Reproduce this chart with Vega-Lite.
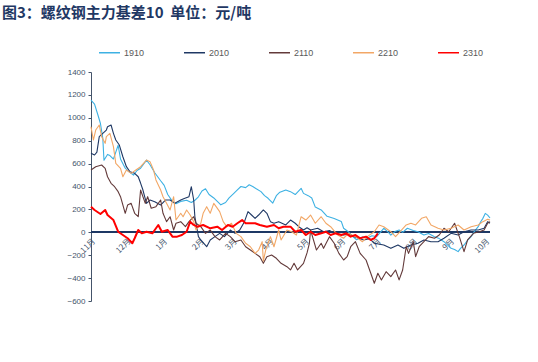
{
"$schema":"https://vega.github.io/schema/vega-lite/v6.json",
"autosize":"none",
"width":399,"height":229,
"padding":{"left":91,"top":72,"right":48,"bottom":61},
"background":"white",
"title":{"text":"图3：螺纹钢主力基差10\u00a0\u00a0单位：元/吨","anchor":"start","frame":"group","dx":-89,"dy":-16,"font":"Noto Sans CJK SC","fontSize":15,"fontWeight":"bold","color":"#1F3864"},
"config":{"view":{"stroke":null},"axis":{"grid":false}},
"datasets":{"d":[
{"s":"1910","t":"2000-11-01","v":1155},{"s":"1910","t":"2000-11-04","v":1120},{"s":"1910","t":"2000-11-07","v":1020},{"s":"1910","t":"2000-11-09","v":950},{"s":"1910","t":"2000-11-11","v":820},{"s":"1910","t":"2000-11-12","v":630},{"s":"1910","t":"2000-11-15","v":680},{"s":"1910","t":"2000-11-17","v":670},{"s":"1910","t":"2000-11-20","v":640},{"s":"1910","t":"2000-11-22","v":700},{"s":"1910","t":"2000-11-24","v":760},{"s":"1910","t":"2000-11-26","v":640},{"s":"1910","t":"2000-11-30","v":560},{"s":"1910","t":"2000-12-03","v":530},{"s":"1910","t":"2000-12-07","v":500},{"s":"1910","t":"2000-12-10","v":540},{"s":"1910","t":"2000-12-13","v":560},{"s":"1910","t":"2000-12-18","v":630},{"s":"1910","t":"2000-12-21","v":590},{"s":"1910","t":"2000-12-25","v":520},{"s":"1910","t":"2000-12-30","v":450},{"s":"1910","t":"2001-01-02","v":410},{"s":"1910","t":"2001-01-05","v":330},{"s":"1910","t":"2001-01-09","v":270},{"s":"1910","t":"2001-01-12","v":250},{"s":"1910","t":"2001-01-16","v":270},{"s":"1910","t":"2001-01-21","v":280},{"s":"1910","t":"2001-01-25","v":260},{"s":"1910","t":"2001-01-28","v":280},{"s":"1910","t":"2001-01-31","v":310},{"s":"1910","t":"2001-02-03","v":360},{"s":"1910","t":"2001-02-06","v":380},{"s":"1910","t":"2001-02-09","v":330},{"s":"1910","t":"2001-02-13","v":300},{"s":"1910","t":"2001-02-16","v":270},{"s":"1910","t":"2001-02-19","v":240},{"s":"1910","t":"2001-02-23","v":260},{"s":"1910","t":"2001-02-26","v":300},{"s":"1910","t":"2001-03-02","v":340},{"s":"1910","t":"2001-03-05","v":370},{"s":"1910","t":"2001-03-08","v":400},{"s":"1910","t":"2001-03-12","v":390},{"s":"1910","t":"2001-03-15","v":415},{"s":"1910","t":"2001-03-18","v":400},{"s":"1910","t":"2001-03-21","v":380},{"s":"1910","t":"2001-03-25","v":355},{"s":"1910","t":"2001-03-28","v":320},{"s":"1910","t":"2001-03-31","v":297},{"s":"1910","t":"2001-04-04","v":255},{"s":"1910","t":"2001-04-07","v":320},{"s":"1910","t":"2001-04-10","v":350},{"s":"1910","t":"2001-04-15","v":370},{"s":"1910","t":"2001-04-19","v":355},{"s":"1910","t":"2001-04-23","v":330},{"s":"1910","t":"2001-04-28","v":384},{"s":"1910","t":"2001-04-30","v":340},{"s":"1910","t":"2001-05-04","v":320},{"s":"1910","t":"2001-05-07","v":300},{"s":"1910","t":"2001-05-10","v":220},{"s":"1910","t":"2001-05-15","v":195},{"s":"1910","t":"2001-05-20","v":140},{"s":"1910","t":"2001-05-26","v":120},{"s":"1910","t":"2001-06-01","v":95},{"s":"1910","t":"2001-06-03","v":35},{"s":"1910","t":"2001-06-07","v":5},{"s":"1910","t":"2001-06-10","v":-30},{"s":"1910","t":"2001-06-14","v":-65},{"s":"1910","t":"2001-06-19","v":-40},{"s":"1910","t":"2001-06-23","v":-52},{"s":"1910","t":"2001-06-27","v":-30},{"s":"1910","t":"2001-07-01","v":-38},{"s":"1910","t":"2001-07-05","v":10},{"s":"1910","t":"2001-07-07","v":35},{"s":"1910","t":"2001-07-11","v":0},{"s":"1910","t":"2001-07-13","v":-24},{"s":"1910","t":"2001-07-17","v":10},{"s":"1910","t":"2001-07-20","v":20},{"s":"1910","t":"2001-07-23","v":0},{"s":"1910","t":"2001-07-27","v":35},{"s":"1910","t":"2001-08-01","v":15},{"s":"1910","t":"2001-08-05","v":5},{"s":"1910","t":"2001-08-10","v":-24},{"s":"1910","t":"2001-08-14","v":-10},{"s":"1910","t":"2001-08-19","v":-38},{"s":"1910","t":"2001-08-23","v":-55},{"s":"1910","t":"2001-08-27","v":-82},{"s":"1910","t":"2001-08-30","v":-110},{"s":"1910","t":"2001-09-02","v":-140},{"s":"1910","t":"2001-09-05","v":-150},{"s":"1910","t":"2001-09-08","v":-169},{"s":"1910","t":"2001-09-10","v":-140},{"s":"1910","t":"2001-09-13","v":-111},{"s":"1910","t":"2001-09-16","v":-70},{"s":"1910","t":"2001-09-19","v":-38},{"s":"1910","t":"2001-09-22","v":10},{"s":"1910","t":"2001-09-25","v":49},{"s":"1910","t":"2001-09-27","v":90},{"s":"1910","t":"2001-09-29","v":122},{"s":"1910","t":"2001-10-01","v":165},{"s":"1910","t":"2001-10-03","v":150},{"s":"1910","t":"2001-10-05","v":125},
{"s":"2010","t":"2000-11-01","v":690},{"s":"2010","t":"2000-11-04","v":675},{"s":"2010","t":"2000-11-06","v":700},{"s":"2010","t":"2000-11-08","v":835},{"s":"2010","t":"2000-11-11","v":864},{"s":"2010","t":"2000-11-14","v":893},{"s":"2010","t":"2000-11-15","v":922},{"s":"2010","t":"2000-11-18","v":937},{"s":"2010","t":"2000-11-20","v":864},{"s":"2010","t":"2000-11-22","v":806},{"s":"2010","t":"2000-11-25","v":762},{"s":"2010","t":"2000-11-28","v":660},{"s":"2010","t":"2000-12-01","v":573},{"s":"2010","t":"2000-12-04","v":529},{"s":"2010","t":"2000-12-08","v":515},{"s":"2010","t":"2000-12-11","v":485},{"s":"2010","t":"2000-12-13","v":430},{"s":"2010","t":"2000-12-15","v":369},{"s":"2010","t":"2000-12-18","v":253},{"s":"2010","t":"2000-12-21","v":282},{"s":"2010","t":"2000-12-25","v":267},{"s":"2010","t":"2000-12-30","v":238},{"s":"2010","t":"2001-01-03","v":282},{"s":"2010","t":"2001-01-07","v":282},{"s":"2010","t":"2001-01-11","v":253},{"s":"2010","t":"2001-01-16","v":282},{"s":"2010","t":"2001-01-19","v":295},{"s":"2010","t":"2001-01-23","v":311},{"s":"2010","t":"2001-01-25","v":398},{"s":"2010","t":"2001-01-27","v":282},{"s":"2010","t":"2001-01-28","v":136},{"s":"2010","t":"2001-01-31","v":-38},{"s":"2010","t":"2001-02-02","v":-67},{"s":"2010","t":"2001-02-07","v":-126},{"s":"2010","t":"2001-02-10","v":-67},{"s":"2010","t":"2001-02-14","v":-38},{"s":"2010","t":"2001-02-18","v":-9},{"s":"2010","t":"2001-02-22","v":-38},{"s":"2010","t":"2001-02-27","v":20},{"s":"2010","t":"2001-03-03","v":-9},{"s":"2010","t":"2001-03-07","v":20},{"s":"2010","t":"2001-03-11","v":93},{"s":"2010","t":"2001-03-14","v":180},{"s":"2010","t":"2001-03-17","v":151},{"s":"2010","t":"2001-03-20","v":122},{"s":"2010","t":"2001-03-23","v":151},{"s":"2010","t":"2001-03-27","v":195},{"s":"2010","t":"2001-03-30","v":166},{"s":"2010","t":"2001-04-02","v":93},{"s":"2010","t":"2001-04-05","v":79},{"s":"2010","t":"2001-04-09","v":93},{"s":"2010","t":"2001-04-15","v":64},{"s":"2010","t":"2001-04-19","v":107},{"s":"2010","t":"2001-04-23","v":79},{"s":"2010","t":"2001-04-26","v":49},{"s":"2010","t":"2001-04-30","v":20},{"s":"2010","t":"2001-05-03","v":40},{"s":"2010","t":"2001-05-06","v":20},{"s":"2010","t":"2001-05-12","v":35},{"s":"2010","t":"2001-05-17","v":5},{"s":"2010","t":"2001-05-22","v":15},{"s":"2010","t":"2001-05-26","v":-9},{"s":"2010","t":"2001-06-03","v":-24},{"s":"2010","t":"2001-06-08","v":-15},{"s":"2010","t":"2001-06-12","v":-38},{"s":"2010","t":"2001-06-20","v":-67},{"s":"2010","t":"2001-06-25","v":-55},{"s":"2010","t":"2001-06-29","v":-96},{"s":"2010","t":"2001-07-07","v":-111},{"s":"2010","t":"2001-07-13","v":-140},{"s":"2010","t":"2001-07-19","v":-111},{"s":"2010","t":"2001-07-24","v":-140},{"s":"2010","t":"2001-07-30","v":-111},{"s":"2010","t":"2001-08-05","v":-96},{"s":"2010","t":"2001-08-10","v":-67},{"s":"2010","t":"2001-08-16","v":-82},{"s":"2010","t":"2001-08-22","v":-82},{"s":"2010","t":"2001-08-27","v":-52},{"s":"2010","t":"2001-09-02","v":-9},{"s":"2010","t":"2001-09-08","v":-24},{"s":"2010","t":"2001-09-13","v":5},{"s":"2010","t":"2001-09-19","v":20},{"s":"2010","t":"2001-09-25","v":20},{"s":"2010","t":"2001-09-30","v":35},{"s":"2010","t":"2001-10-03","v":93},{"s":"2010","t":"2001-10-05","v":79},
{"s":"2110","t":"2000-11-01","v":544},{"s":"2110","t":"2000-11-05","v":573},{"s":"2110","t":"2000-11-10","v":588},{"s":"2110","t":"2000-11-13","v":559},{"s":"2110","t":"2000-11-15","v":485},{"s":"2110","t":"2000-11-18","v":428},{"s":"2110","t":"2000-11-21","v":398},{"s":"2110","t":"2000-11-24","v":355},{"s":"2110","t":"2000-11-26","v":311},{"s":"2110","t":"2000-11-30","v":166},{"s":"2110","t":"2000-12-02","v":238},{"s":"2110","t":"2000-12-05","v":253},{"s":"2110","t":"2000-12-08","v":166},{"s":"2110","t":"2000-12-11","v":136},{"s":"2110","t":"2000-12-13","v":369},{"s":"2110","t":"2000-12-17","v":253},{"s":"2110","t":"2000-12-19","v":311},{"s":"2110","t":"2000-12-22","v":210},{"s":"2110","t":"2000-12-26","v":224},{"s":"2110","t":"2000-12-30","v":282},{"s":"2110","t":"2001-01-01","v":166},{"s":"2110","t":"2001-01-04","v":93},{"s":"2110","t":"2001-01-07","v":136},{"s":"2110","t":"2001-01-10","v":20},{"s":"2110","t":"2001-01-12","v":79},{"s":"2110","t":"2001-01-16","v":93},{"s":"2110","t":"2001-01-20","v":49},{"s":"2110","t":"2001-01-23","v":93},{"s":"2110","t":"2001-01-27","v":136},{"s":"2110","t":"2001-01-29","v":79},{"s":"2110","t":"2001-02-02","v":49},{"s":"2110","t":"2001-02-06","v":-9},{"s":"2110","t":"2001-02-10","v":20},{"s":"2110","t":"2001-02-14","v":-38},{"s":"2110","t":"2001-02-18","v":-67},{"s":"2110","t":"2001-02-23","v":-9},{"s":"2110","t":"2001-02-27","v":-38},{"s":"2110","t":"2001-03-03","v":-82},{"s":"2110","t":"2001-03-08","v":-67},{"s":"2110","t":"2001-03-12","v":-126},{"s":"2110","t":"2001-03-16","v":-155},{"s":"2110","t":"2001-03-20","v":-184},{"s":"2110","t":"2001-03-24","v":-213},{"s":"2110","t":"2001-03-27","v":-271},{"s":"2110","t":"2001-03-30","v":-213},{"s":"2110","t":"2001-04-03","v":-198},{"s":"2110","t":"2001-04-07","v":-227},{"s":"2110","t":"2001-04-11","v":-271},{"s":"2110","t":"2001-04-16","v":-300},{"s":"2110","t":"2001-04-19","v":-329},{"s":"2110","t":"2001-04-22","v":-271},{"s":"2110","t":"2001-04-25","v":-329},{"s":"2110","t":"2001-04-30","v":-271},{"s":"2110","t":"2001-05-03","v":-180},{"s":"2110","t":"2001-05-05","v":-96},{"s":"2110","t":"2001-05-06","v":20},{"s":"2110","t":"2001-05-11","v":-155},{"s":"2110","t":"2001-05-15","v":-96},{"s":"2110","t":"2001-05-17","v":-140},{"s":"2110","t":"2001-05-22","v":-38},{"s":"2110","t":"2001-05-26","v":-96},{"s":"2110","t":"2001-05-30","v":-184},{"s":"2110","t":"2001-06-03","v":-242},{"s":"2110","t":"2001-06-06","v":-213},{"s":"2110","t":"2001-06-09","v":-126},{"s":"2110","t":"2001-06-13","v":-82},{"s":"2110","t":"2001-06-17","v":-184},{"s":"2110","t":"2001-06-22","v":-242},{"s":"2110","t":"2001-06-26","v":-358},{"s":"2110","t":"2001-06-29","v":-445},{"s":"2110","t":"2001-07-02","v":-358},{"s":"2110","t":"2001-07-05","v":-416},{"s":"2110","t":"2001-07-09","v":-344},{"s":"2110","t":"2001-07-13","v":-387},{"s":"2110","t":"2001-07-17","v":-329},{"s":"2110","t":"2001-07-20","v":-416},{"s":"2110","t":"2001-07-23","v":-329},{"s":"2110","t":"2001-07-26","v":-126},{"s":"2110","t":"2001-07-28","v":-184},{"s":"2110","t":"2001-08-01","v":-82},{"s":"2110","t":"2001-08-03","v":-213},{"s":"2110","t":"2001-08-06","v":-126},{"s":"2110","t":"2001-08-10","v":-82},{"s":"2110","t":"2001-08-14","v":-38},{"s":"2110","t":"2001-08-19","v":-52},{"s":"2110","t":"2001-08-23","v":-24},{"s":"2110","t":"2001-08-27","v":35},{"s":"2110","t":"2001-08-31","v":5},{"s":"2110","t":"2001-09-05","v":79},{"s":"2110","t":"2001-09-09","v":-38},{"s":"2110","t":"2001-09-13","v":-169},{"s":"2110","t":"2001-09-16","v":-67},{"s":"2110","t":"2001-09-21","v":-9},{"s":"2110","t":"2001-09-26","v":5},{"s":"2110","t":"2001-09-30","v":20},{"s":"2110","t":"2001-10-03","v":79},{"s":"2110","t":"2001-10-05","v":93},
{"s":"2210","t":"2000-11-01","v":922},{"s":"2210","t":"2000-11-03","v":806},{"s":"2210","t":"2000-11-05","v":893},{"s":"2210","t":"2000-11-08","v":937},{"s":"2210","t":"2000-11-10","v":835},{"s":"2210","t":"2000-11-13","v":777},{"s":"2210","t":"2000-11-14","v":835},{"s":"2210","t":"2000-11-17","v":864},{"s":"2210","t":"2000-11-20","v":748},{"s":"2210","t":"2000-11-22","v":602},{"s":"2210","t":"2000-11-26","v":559},{"s":"2210","t":"2000-11-28","v":485},{"s":"2210","t":"2000-12-01","v":544},{"s":"2210","t":"2000-12-05","v":515},{"s":"2210","t":"2000-12-09","v":544},{"s":"2210","t":"2000-12-13","v":573},{"s":"2210","t":"2000-12-18","v":631},{"s":"2210","t":"2000-12-21","v":617},{"s":"2210","t":"2000-12-24","v":544},{"s":"2210","t":"2000-12-26","v":457},{"s":"2210","t":"2000-12-30","v":369},{"s":"2210","t":"2001-01-01","v":311},{"s":"2210","t":"2001-01-04","v":253},{"s":"2210","t":"2001-01-07","v":195},{"s":"2210","t":"2001-01-10","v":311},{"s":"2210","t":"2001-01-12","v":107},{"s":"2210","t":"2001-01-16","v":166},{"s":"2210","t":"2001-01-18","v":136},{"s":"2210","t":"2001-01-21","v":195},{"s":"2210","t":"2001-01-24","v":151},{"s":"2210","t":"2001-01-27","v":93},{"s":"2210","t":"2001-01-29","v":20},{"s":"2210","t":"2001-02-02","v":79},{"s":"2210","t":"2001-02-04","v":166},{"s":"2210","t":"2001-02-07","v":224},{"s":"2210","t":"2001-02-10","v":166},{"s":"2210","t":"2001-02-13","v":253},{"s":"2210","t":"2001-02-15","v":224},{"s":"2210","t":"2001-02-18","v":180},{"s":"2210","t":"2001-02-21","v":93},{"s":"2210","t":"2001-02-24","v":49},{"s":"2210","t":"2001-02-28","v":79},{"s":"2210","t":"2001-03-04","v":-9},{"s":"2210","t":"2001-03-08","v":-38},{"s":"2210","t":"2001-03-12","v":-96},{"s":"2210","t":"2001-03-16","v":-126},{"s":"2210","t":"2001-03-20","v":-184},{"s":"2210","t":"2001-03-23","v":-155},{"s":"2210","t":"2001-03-26","v":-82},{"s":"2210","t":"2001-03-27","v":-250},{"s":"2210","t":"2001-03-29","v":-155},{"s":"2210","t":"2001-04-02","v":-38},{"s":"2210","t":"2001-04-05","v":-126},{"s":"2210","t":"2001-04-09","v":20},{"s":"2210","t":"2001-04-11","v":-67},{"s":"2210","t":"2001-04-16","v":20},{"s":"2210","t":"2001-04-20","v":5},{"s":"2210","t":"2001-04-24","v":-24},{"s":"2210","t":"2001-04-28","v":136},{"s":"2210","t":"2001-05-02","v":107},{"s":"2210","t":"2001-05-06","v":151},{"s":"2210","t":"2001-05-10","v":79},{"s":"2210","t":"2001-05-15","v":136},{"s":"2210","t":"2001-05-19","v":79},{"s":"2210","t":"2001-05-23","v":49},{"s":"2210","t":"2001-05-29","v":-24},{"s":"2210","t":"2001-06-03","v":-52},{"s":"2210","t":"2001-06-07","v":-9},{"s":"2210","t":"2001-06-13","v":-38},{"s":"2210","t":"2001-06-19","v":-82},{"s":"2210","t":"2001-06-23","v":-38},{"s":"2210","t":"2001-06-29","v":5},{"s":"2210","t":"2001-07-03","v":64},{"s":"2210","t":"2001-07-07","v":49},{"s":"2210","t":"2001-07-13","v":5},{"s":"2210","t":"2001-07-17","v":-38},{"s":"2210","t":"2001-07-22","v":20},{"s":"2210","t":"2001-07-26","v":64},{"s":"2210","t":"2001-07-30","v":79},{"s":"2210","t":"2001-08-03","v":64},{"s":"2210","t":"2001-08-08","v":122},{"s":"2210","t":"2001-08-12","v":136},{"s":"2210","t":"2001-08-16","v":64},{"s":"2210","t":"2001-08-22","v":35},{"s":"2210","t":"2001-08-27","v":20},{"s":"2210","t":"2001-09-02","v":35},{"s":"2210","t":"2001-09-08","v":64},{"s":"2210","t":"2001-09-13","v":20},{"s":"2210","t":"2001-09-19","v":49},{"s":"2210","t":"2001-09-25","v":64},{"s":"2210","t":"2001-09-29","v":93},{"s":"2210","t":"2001-10-03","v":113},{"s":"2210","t":"2001-10-05","v":107},
{"s":"2310","t":"2000-11-01","v":224},{"s":"2310","t":"2000-11-04","v":195},{"s":"2310","t":"2000-11-09","v":160},{"s":"2310","t":"2000-11-13","v":195},{"s":"2310","t":"2000-11-15","v":151},{"s":"2310","t":"2000-11-20","v":107},{"s":"2310","t":"2000-11-24","v":5},{"s":"2310","t":"2000-11-28","v":-24},{"s":"2310","t":"2000-12-02","v":-52},{"s":"2310","t":"2000-12-06","v":-96},{"s":"2310","t":"2000-12-08","v":-52},{"s":"2310","t":"2000-12-11","v":20},{"s":"2310","t":"2000-12-14","v":-9},{"s":"2310","t":"2000-12-18","v":5},{"s":"2310","t":"2000-12-23","v":-9},{"s":"2310","t":"2000-12-25","v":20},{"s":"2310","t":"2000-12-28","v":64},{"s":"2310","t":"2000-12-31","v":5},{"s":"2310","t":"2001-01-05","v":20},{"s":"2310","t":"2001-01-09","v":-38},{"s":"2310","t":"2001-01-13","v":-38},{"s":"2310","t":"2001-01-17","v":-24},{"s":"2310","t":"2001-01-21","v":5},{"s":"2310","t":"2001-01-24","v":93},{"s":"2310","t":"2001-01-27","v":64},{"s":"2310","t":"2001-01-30","v":49},{"s":"2310","t":"2001-02-04","v":64},{"s":"2310","t":"2001-02-10","v":35},{"s":"2310","t":"2001-02-16","v":49},{"s":"2310","t":"2001-02-20","v":20},{"s":"2310","t":"2001-02-25","v":64},{"s":"2310","t":"2001-03-01","v":49},{"s":"2310","t":"2001-03-05","v":79},{"s":"2310","t":"2001-03-09","v":107},{"s":"2310","t":"2001-03-12","v":79},{"s":"2310","t":"2001-03-16","v":79},{"s":"2310","t":"2001-03-20","v":79},{"s":"2310","t":"2001-03-24","v":64},{"s":"2310","t":"2001-03-30","v":49},{"s":"2310","t":"2001-04-05","v":64},{"s":"2310","t":"2001-04-09","v":35},{"s":"2310","t":"2001-04-13","v":49},{"s":"2310","t":"2001-04-19","v":49},{"s":"2310","t":"2001-04-23","v":5},{"s":"2310","t":"2001-04-28","v":20},{"s":"2310","t":"2001-05-02","v":-24},{"s":"2310","t":"2001-05-06","v":5},{"s":"2310","t":"2001-05-10","v":-24},{"s":"2310","t":"2001-05-15","v":-9},{"s":"2310","t":"2001-05-19","v":5},{"s":"2310","t":"2001-05-23","v":-24},{"s":"2310","t":"2001-05-27","v":-9},{"s":"2310","t":"2001-06-01","v":-24},{"s":"2310","t":"2001-06-05","v":-9},{"s":"2310","t":"2001-06-09","v":-38},{"s":"2310","t":"2001-06-13","v":-24},{"s":"2310","t":"2001-06-17","v":-52},{"s":"2310","t":"2001-06-22","v":-38},{"s":"2310","t":"2001-06-26","v":-67},{"s":"2310","t":"2001-06-29","v":-52},{"s":"2310","t":"2001-07-02","v":-9}
]},
"data":{"name":"d"},
"layer":[
{"mark":{"type":"rule","color":"#1F3864","strokeWidth":1.2},"encoding":{"y":{"datum":0,"type":"quantitative"}}},
{"mark":{"type":"line","interpolate":"linear","strokeJoin":"round"},
"encoding":{
"x":{"field":"t","type":"temporal","scale":{"domain":[{"year":2000,"month":11,"date":1},{"year":2001,"month":10,"date":5}]},
"axis":{"title":null,"orient":"bottom","offset":-69,"domain":false,"ticks":false,"grid":false,"tickCount":{"interval":"month","step":1},"format":"%-m月","labelAngle":-45,"labelFlush":false,"labelOverlap":false,"labelFont":"Noto Sans CJK SC","labelFontSize":8,"labelColor":"#44546A","labelPadding":5}},
"y":{"field":"v","type":"quantitative","scale":{"domain":[-600,1400],"nice":false,"zero":false},
"axis":{"title":null,"values":[-600,-400,-200,0,200,400,600,800,1000,1200,1400],"tickCount":11,"format":"d","labelOverlap":false,"labelFlush":false,"domainColor":"#44546A","tickColor":"#44546A","tickSize":3,"labelFont":"Liberation Sans","labelFontSize":8,"labelColor":"#44546A","labelPadding":3,"grid":false}},
"color":{"field":"s","type":"nominal","scale":{"domain":["1910","2010","2110","2210","2310"],"range":["#3DB1E3","#1F3864","#633A3A","#F2A766","#FF0000"]},
"legend":{"title":null,"orient":"none","direction":"horizontal","legendX":7,"legendY":-31,"padding":0,"symbolType":"stroke","symbolSize":441,"symbolStrokeWidth":1.5,"labelFont":"Liberation Sans","labelFontSize":9,"labelColor":"#595959","labelOffset":3,"columnPadding":36}},
"strokeWidth":{"condition":{"test":"datum.s==='2310'","value":2},"value":1.1}
}}
]
}
